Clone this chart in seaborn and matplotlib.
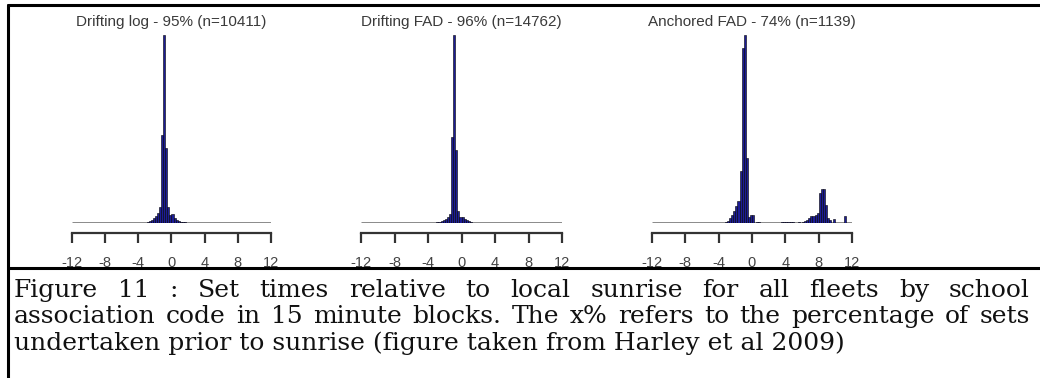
import numpy as np
import pandas as pd
import matplotlib
matplotlib.use("Agg")
import matplotlib.pyplot as plt
import seaborn as sns

# Set counts per 15-minute block, hours relative to local sunrise
BLOCK_H = 0.25
titles = ["Drifting log - 95% (n=10411)",
          "Drifting FAD - 96% (n=14762)",
          "Anchored FAD - 74% (n=1139)"]

log_start = -3.0
log_counts = [24, 47, 71, 118, 165, 236, 378, 2078, 4436, 1771, 378, 189,
              212, 118, 71, 47, 24, 24, 24]

dfad_start = -3.0
dfad_counts = [36, 36, 73, 109, 145, 218, 326, 3119, 6818, 2648, 435, 218,
               218, 145, 109, 73, 36]

afad_start = -3.25
afad_counts = [2, 3, 8, 12, 18, 26, 33, 78, 264, 283, 98, 9, 12,
               12, 0, 2, 1,
               0, 0, 0, 0, 0, 0, 0, 0, 0, 0,
               1, 1, 1, 1, 1, 1,
               0, 0,
               2, 0, 1, 3, 5, 8, 11, 11, 12, 15, 45, 51, 51, 27, 8, 5, 0, 6,
               0, 0, 0, 0,
               11]

tick_hours = [-12, -8, -4, 0, 4, 8, 12]

caption_lines = [
    "Figure 11 : Set times relative to local sunrise for all fleets by school",
    "association code in 15 minute blocks. The x% refers to the percentage of sets",
    "undertaken prior to sunrise (figure taken from Harley et al 2009)",
]

W, H = 1040, 378
sns.set_style("white")
plt.rcParams["font.family"] = ["Liberation Sans", "DejaVu Sans"]

fig = plt.figure(figsize=(W / 100, H / 100), dpi=100)
fig.patch.set_facecolor("white")

bar_color = "#1c1c96"
panels = [(log_start, log_counts, 72, 271),
          (dfad_start, dfad_counts, 361, 562),
          (afad_start, afad_counts, 652, 852)]
y_base, y_top = 223, 35

for (start, counts, x0, x1), title in zip(panels, titles):
    counts = np.asarray(counts, dtype=float)
    hours = start + BLOCK_H * np.arange(len(counts)) + BLOCK_H / 2
    df = pd.DataFrame({"hours": hours, "sets": counts})
    ax = fig.add_axes([x0 / W, 1 - y_base / H, (x1 - x0) / W, (y_base - y_top) / H])
    ax.hlines(0, -12, 12, color="#808080", lw=2.0, zorder=0)
    sns.histplot(data=df, x="hours", weights="sets", binwidth=BLOCK_H,
                 binrange=(-12, 12), ax=ax, color=bar_color, edgecolor="black",
                 linewidth=0.4, alpha=1.0, zorder=2)
    for p in ax.patches:
        if p.get_height() == 0:
            p.set_visible(False)
    ax.set_xlim(-12, 12)
    ax.set_ylim(0, counts.max())
    ax.set_xlabel("")
    ax.set_ylabel("")
    ax.set_yticks([])
    for s in ("left", "right", "top"):
        ax.spines[s].set_visible(False)
    ax.spines["bottom"].set_position(("outward", 7))
    ax.spines["bottom"].set_bounds(-12, 12)
    ax.spines["bottom"].set_color("#333333")
    ax.spines["bottom"].set_linewidth(1.6)
    ax.set_xticks(tick_hours)
    ax.set_xticklabels([str(t) for t in tick_hours])
    ax.tick_params(axis="x", bottom=True, direction="out", length=7, width=1.6,
                   color="#333333", pad=10, labelsize=10.5, labelcolor="#444444")
    ax.patch.set_alpha(0)
    ax.text(0.5, (y_base - 22) / (y_base - y_top), title, transform=ax.transAxes,
            ha="center", va="center", fontsize=11, color="#3a3a3a")

# Table-cell frame around the figure and caption
line_kw = dict(color="black", lw=2.2, transform=fig.transFigure)
fig.add_artist(plt.Line2D([8 / W, 1], [1 - 4.5 / H] * 2, **line_kw))
fig.add_artist(plt.Line2D([8 / W, 1], [1 - 267.5 / H] * 2, **line_kw))
fig.add_artist(plt.Line2D([8 / W] * 2, [0, 1 - 4.5 / H], **line_kw))

# Caption, justified on the first two lines; a line too long for the cell
# is set a little smaller so it still fits with ordinary word spacing
serif = ["DejaVu Serif"]
cap_fs = 18
renderer = fig.canvas.get_renderer()
left_px, right_px = 14, 1030
baselines = [297, 323, 350]
for i, (line, yb) in enumerate(zip(caption_lines, baselines)):
    if i < 2:
        words = line.split(" ")
        fs = cap_fs
        while True:
            texts = [fig.text(0, 1 - yb / H, w, fontsize=fs, family=serif,
                              va="baseline", ha="left", color="#111111")
                     for w in words]
            widths = [t.get_window_extent(renderer).width for t in texts]
            gap = (right_px - left_px - sum(widths)) / (len(words) - 1)
            if gap >= fs * 0.3 or fs < 12:
                break
            for t in texts:
                t.remove()
            fs -= 0.25
        x = left_px
        for t, w in zip(texts, widths):
            t.set_x(x / W)
            x += w + gap
    else:
        fig.text(left_px / W, 1 - yb / H, line, fontsize=cap_fs, family=serif,
                 va="baseline", ha="left", color="#111111")

fig.savefig("out.png", dpi=100, facecolor="white")
